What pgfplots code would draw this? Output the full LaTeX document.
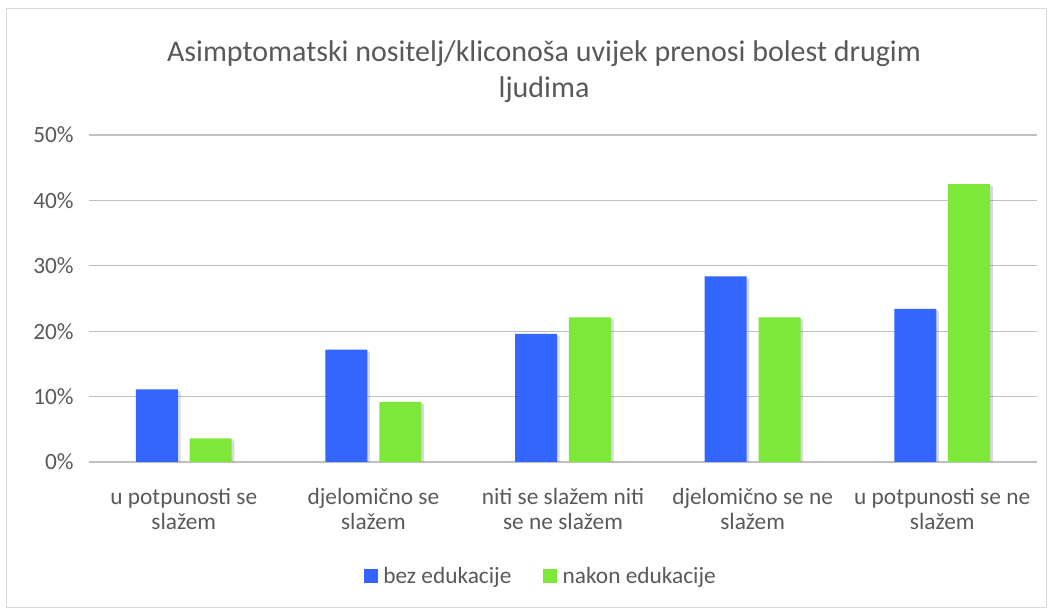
\documentclass[border=0pt]{standalone}
\usepackage{fontspec}
\setmainfont{Carlito}
\usepackage{pgfplots}
\pgfplotsset{compat=1.18}
\usetikzlibrary{shadows}

\definecolor{bluebar}{HTML}{3366FF}
\definecolor{greenbar}{HTML}{7EE83A}
\definecolor{txt}{HTML}{595959}
\definecolor{grid}{HTML}{D9D9D9}

\begin{document}
\begin{tikzpicture}
\useasboundingbox (-66.75pt,-113.25pt) rectangle (720.75pt,346.5pt);
\draw[grid, line width=0.75pt] (-61.5pt,-109.5pt) rectangle (717.75pt,339.75pt);
\begin{axis}[
    at={(0pt,0pt)}, anchor=south west,
    scale only axis,
    width=711pt, height=245.25pt,
    xmin=-0.5, xmax=4.5,
    ymin=0, ymax=50,
    ytick={0,10,20,30,40,50},
    yticklabels={0\%,10\%,20\%,30\%,40\%,50\%},
    xtick={0,1,2,3,4},
    xticklabels={u potpunosti se\\slažem, djelomično se\\slažem, niti se slažem niti\\se ne slažem, djelomično se ne\\slažem, u potpunosti se ne\\slažem},
    x tick label style={align=center, font=\fontsize{17.5}{18.75}\selectfont, text=txt, yshift=-16pt},
    y tick label style={font=\fontsize{17.5}{18.75}\selectfont, text=txt, xshift=-8pt},
    major tick length=0pt,
    ymajorgrids, xmajorgrids=false,
    grid style={grid, line width=0.8pt},
    axis line style={draw=none},
    ybar, bar width=0.2215,
    title={Asimptomatski nositelj/kliconoša uvijek prenosi bolest drugim\\ljudima},
    title style={at={(0.48,1.168)}, anchor=center, align=center, text=txt, font=\fontsize{22.5}{27}\selectfont},
    legend columns=2,
    legend style={at={(0.477,-0.349)}, anchor=center, draw=none, fill=none,
        font=\fontsize{17.5}{18.75}\selectfont, text=txt,
        /tikz/every odd column/.append style={column sep=2pt},
        /tikz/every even column/.append style={column sep=22pt}},
    legend image code/.code={\fill[#1,draw=none] (0pt,-5.25pt) rectangle (10.5pt,5.25pt);},
]
\addplot[forget plot, fill=bluebar, draw=none, bar shift=-0.142,
    drop shadow={shadow xshift=2pt, shadow yshift=-1.5pt, opacity=0.3}]
    coordinates {(0,11.1) (1,17.2) (2,19.6) (3,28.4) (4,23.4)};
\addplot[forget plot, fill=greenbar, draw=none, bar shift=0.142,
    drop shadow={shadow xshift=2pt, shadow yshift=-1.5pt, opacity=0.3}]
    coordinates {(0,3.6) (1,9.2) (2,22.1) (3,22.1) (4,42.5)};
\addlegendimage{fill=bluebar,draw=none}
\addlegendentry{bez edukacije}
\addlegendimage{fill=greenbar,draw=none}
\addlegendentry{nakon edukacije}
\end{axis}
\end{tikzpicture}
\end{document}
